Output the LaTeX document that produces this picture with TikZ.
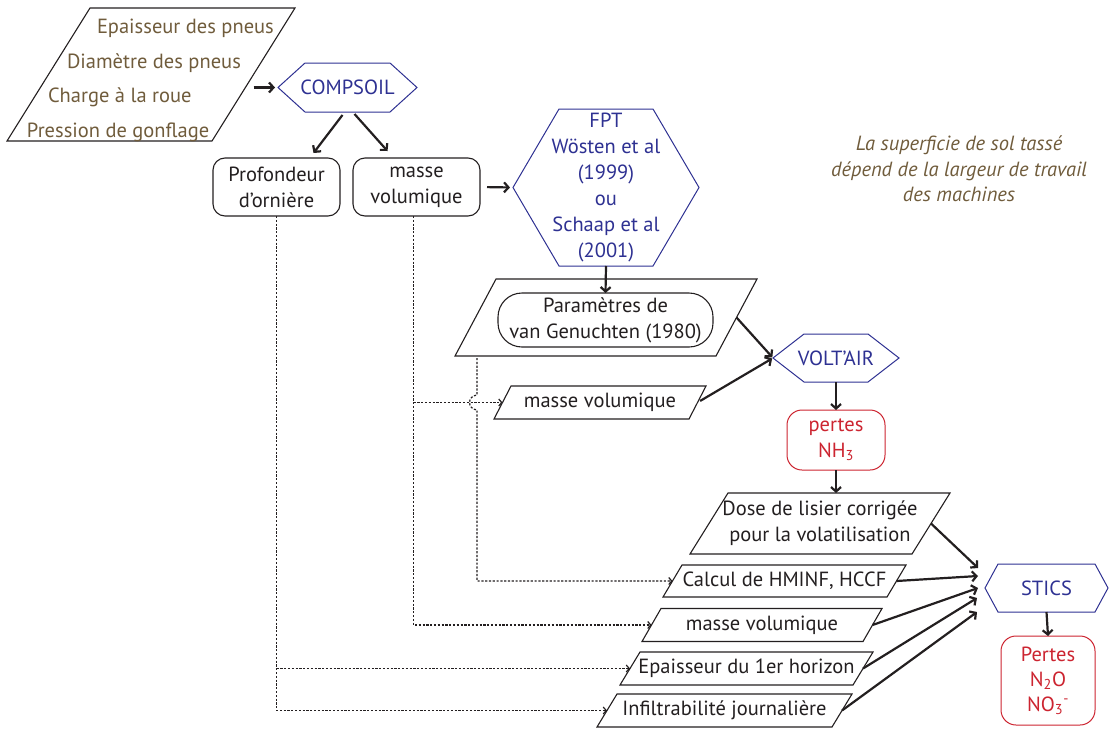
\documentclass[tikz,border=0pt]{standalone}
\usepackage{fontspec}
\setmainfont{PT Sans}
\usetikzlibrary{arrows.meta,calc}
\definecolor{brn}{RGB}{112,92,60}
\definecolor{hblue}{RGB}{46,49,146}
\definecolor{hred}{RGB}{204,36,48}
\definecolor{ink}{RGB}{35,31,32}
\newcommand\hexdraw[2]{\draw[hexline] (#1.west) -- ($(#1.north west)+(#2,0)$) -- ($(#1.north east)+(-#2,0)$) -- (#1.east) -- ($(#1.south east)+(-#2,0)$) -- ($(#1.south west)+(#2,0)$) -- cycle;}
\newcommand\paradraw[2]{%
  \draw[paraline] (#1.south west) -- ($(#1.north west)+(#2,0)$) -- (#1.north east) -- ($(#1.south east)+(-#2,0)$) -- cycle;
  \coordinate (#1-w) at ($(#1.west)+({#2/2},0)$);
  \coordinate (#1-e) at ($(#1.east)+({-#2/2},0)$);}
\begin{document}
\begin{tikzpicture}[x=1pt,y=-1pt,
  every node/.style={font=\fontsize{20.5}{26}\selectfont, inner sep=0pt, outer sep=0pt, align=center, text=ink},
  rbox/.style={draw=ink, line width=1.1pt, rounded corners=12pt},
  redbox/.style={draw=hred, text=hred, line width=1pt, rounded corners=15pt},
  paraline/.style={draw=ink, line width=1.1pt},
  hexn/.style={text=hblue},
  hexline/.style={draw=hblue, line width=1pt},
  arr/.style={draw=ink, line width=2.2pt, -{Straight Barb[length=4.5pt,width=10pt]}},
  dline/.style={draw=ink, line width=1.2pt, dash pattern=on 2.2pt off 1.6pt},
  darr/.style={dline, -{Straight Barb[length=3pt,width=7pt]}},
]
\useasboundingbox (0,0) rectangle (1110,728);

% top-left input parallelogram
\node[minimum width=288, minimum height=133] (tires) at (151,74.5) {};
\paradraw{tires}{83}
\node[anchor=base west, text=brn] (t1) at (97,33) {Epaisseur des pneus};
\node[anchor=base west, text=brn] (t2) at (67,68) {Diamètre des pneus};
\node[anchor=base west, text=brn] (t3) at (48,102) {Charge à la roue};
\node[anchor=base west, text=brn] (t4) at (27,137) {Pression de gonflage};

% COMPSOIL
\node[hexn, minimum width=139, minimum height=49] (compsoil) at (347.5,87.5) {COMPSOIL};
\hexdraw{compsoil}{27}

\node[rbox, minimum width=127, minimum height=58] (prof) at (276.5,187) {Profondeur\\d'ornière};
\node[rbox, minimum width=127, minimum height=58] (mv1) at (416.5,187) {masse\\volumique};

% FPT
\node[hexn, minimum width=186, minimum height=157] (fpt) at (606,187.5) {FPT\\Wösten et al\\(1999)\\ou\\Schaap et al\\(2001)};
\hexdraw{fpt}{46}

% van Genuchten
\node[minimum width=302, minimum height=77] (param) at (606,317.5) {};
\paradraw{param}{41}
\node[rbox, rounded corners=24pt, minimum width=215, minimum height=54] (vg) at (605.5,320) {Paramètres de\\van Genuchten (1980)};

% VOLT'AIR
\node[hexn, minimum width=126, minimum height=48] (voltair) at (836,358) {VOLT'AIR};
\hexdraw{voltair}{31}

\node[minimum width=212, minimum height=33] (mv2) at (600,402.5) {masse volumique};
\paradraw{mv2}{17}

\node[redbox, minimum width=98, minimum height=60] (nh3) at (836,440) {pertes\\NH\textsubscript{3}};

\node[minimum width=260, minimum height=61] (dose) at (820,523.5) {Dose de lisier corrigée\\pour la volatilisation};
\paradraw{dose}{38}
\node[minimum width=243, minimum height=32] (calcul) at (784.5,581) {Calcul de HMINF, HCCF};
\paradraw{calcul}{19}
\node[minimum width=240, minimum height=33] (mv3) at (762,625) {masse volumique};
\paradraw{mv3}{19}
\node[minimum width=253, minimum height=33] (epais) at (746.5,668.5) {Epaisseur du 1er horizon};
\paradraw{epais}{20}
\node[minimum width=255, minimum height=33] (infil) at (724.5,710.5) {Infiltrabilité journalière};
\paradraw{infil}{20}

% STICS
\node[hexn, minimum width=123, minimum height=48] (stics) at (1046.5,588) {STICS};
\hexdraw{stics}{13}
\node[redbox, minimum width=94, minimum height=89, font=\fontsize{20.5}{25}\selectfont] (pertes) at (1048,680.5) {Pertes\\N\textsubscript{2}O\\NO\textsubscript{3}\textsuperscript{-}};

% note
\node[text=brn, font=\fontsize{20.5}{25.5}\selectfont\itshape] (note) at (959,169) {La superficie de sol tassé\\dépend de la largeur de travail\\des machines};

% solid connectors
\draw[arr, shorten >=3pt] (tires-e |- compsoil.west) -- (compsoil.west);
\draw[arr] ($(compsoil.south)+(-5,3)$) -- ($(prof.north)+(37,-5)$);
\draw[arr] ($(compsoil.south)+(7,2)$) -- ($(mv1.north)+(-29,-7)$);
\draw[arr, shorten <=7pt, shorten >=3pt] (mv1.east) -- (fpt.west);
\draw[arr] (fpt.south) -- (vg.north);
\draw[arr, shorten >=1pt] (param-e) -- (voltair.west);
\draw[arr, shorten <=3pt, shorten >=1pt] (mv2-e) -- (voltair.west);
\draw[arr] (voltair.south) -- (nh3.north);
\draw[arr] (nh3.south) -- (nh3.south |- dose.north);
\draw[arr] (dose-e) -- ($(stics.west)+(-7,-20)$);
\draw[arr] (calcul-e) -- ($(stics.west)+(-7,-12)$);
\draw[arr] (mv3-e) -- ($(stics.west)+(-7,0)$);
\draw[arr] (epais-e) -- ($(stics.west)+(-8,10)$);
\draw[arr] (infil-e) -- ($(stics.west)+(-8,24)$);
\draw[arr] (stics.south) -- (pertes.north);

% dotted connectors
\draw[darr] (prof.south) |- (infil-w);
\draw[darr] (prof.south |- epais-w) -- (epais-w);
\coordinate (m1) at ($(mv1.south)+(-3,0)$);
\draw[darr] (m1) |- (mv3-w);
\draw[darr] (m1 |- mv2-w) -- (mv2-w);
\coordinate (pb) at ($(param.south west)+(22,2)$);
\draw[darr] (pb) -- ($(pb)+(0,37)$) .. controls ($(pb)+(-10,38)$) and ($(pb)+(-10,51)$) .. ($(pb)+(0,52)$) |- (calcul-w);
\end{tikzpicture}
\end{document}
